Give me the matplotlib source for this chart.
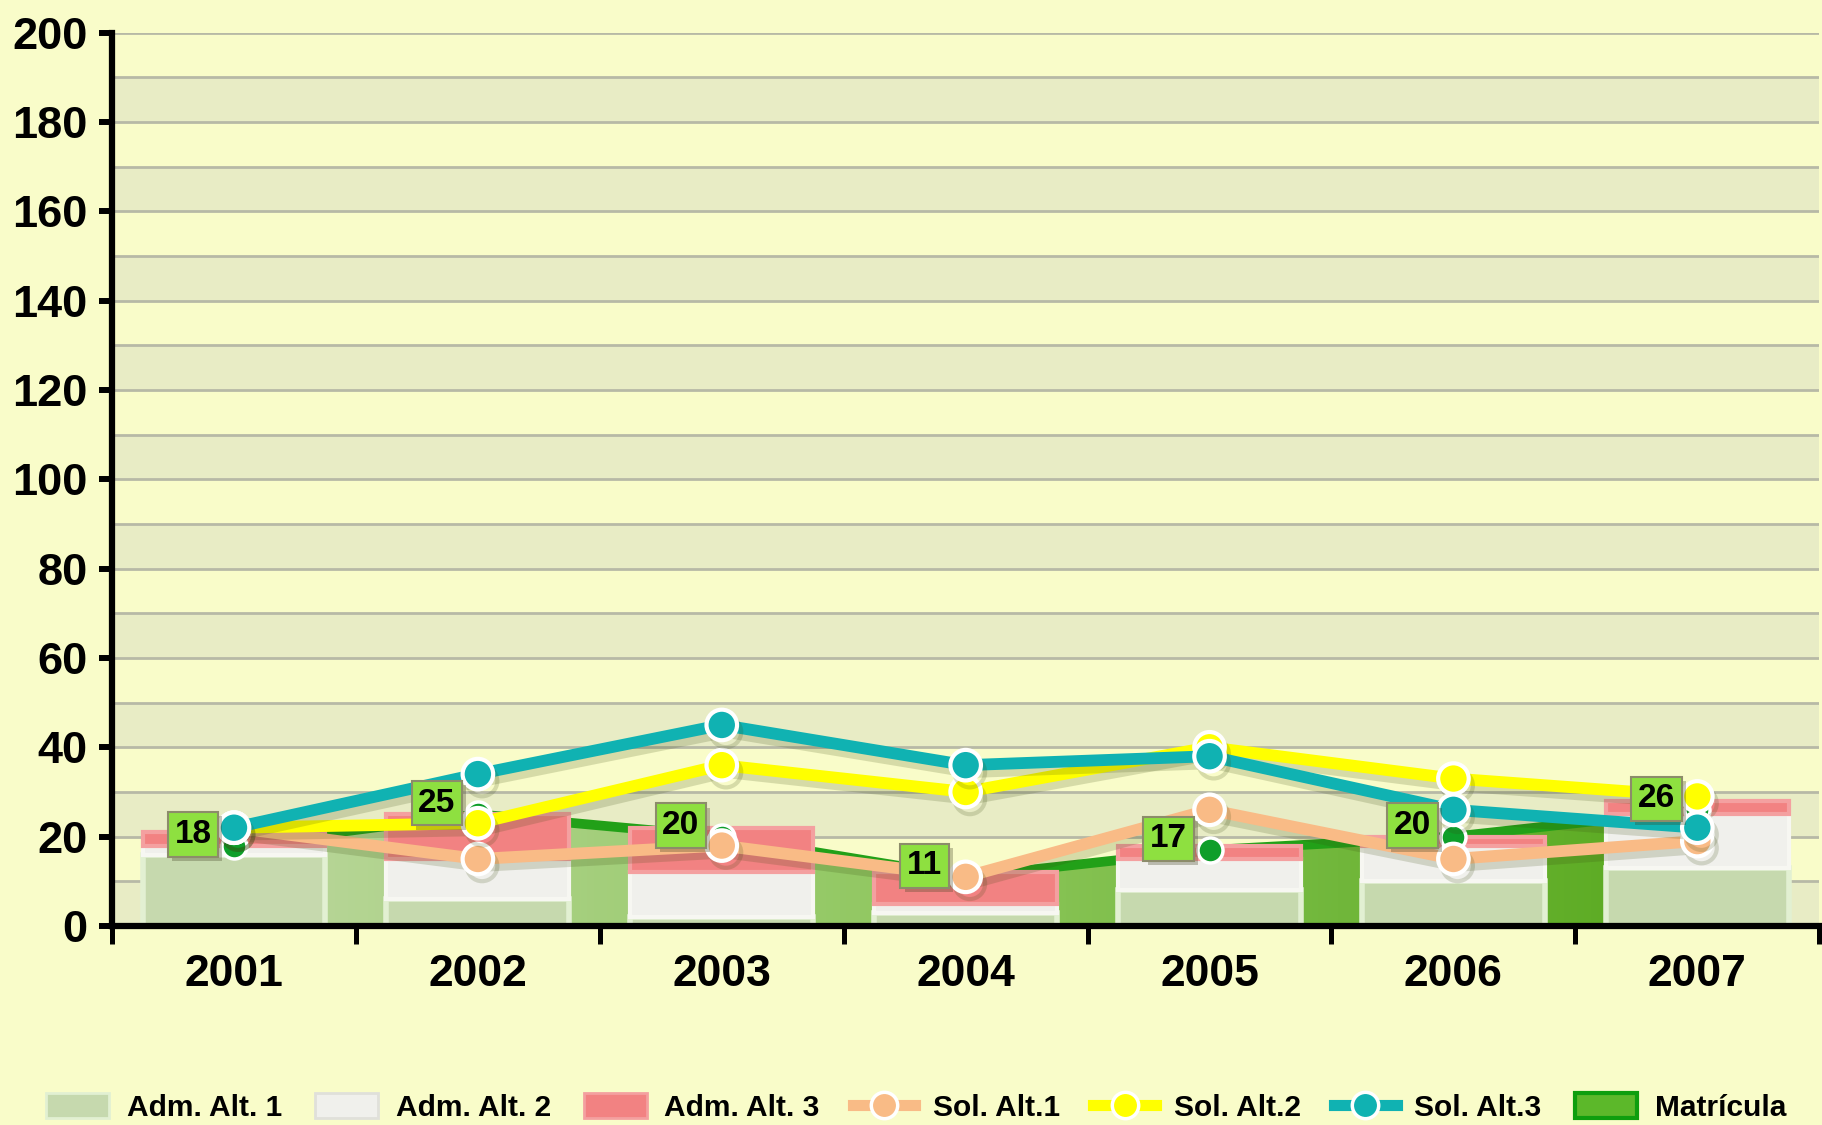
import matplotlib
matplotlib.use("Agg")
import matplotlib.pyplot as plt
import numpy as np
from matplotlib import patheffects as pe
from matplotlib.colors import LinearSegmentedColormap
from matplotlib.lines import Line2D
from matplotlib.patches import Patch

years = ["2001", "2002", "2003", "2004", "2005", "2006", "2007"]
adm_alt1 = [16, 6, 2, 3, 8, 10, 13]
adm_alt2 = [2, 9, 10, 2, 7, 8, 12]
adm_alt3 = [3, 10, 10, 7, 3, 2, 3]
sol_alt1 = [22, 15, 18, 11, 26, 15, 19]
sol_alt2 = [22, 23, 36, 30, 40, 33, 29]
sol_alt3 = [22, 34, 45, 36, 38, 26, 22]
matricula = [18, 25, 20, 11, 17, 20, 26]

plt.rcParams["font.family"] = ["Liberation Sans", "DejaVu Sans"]
plt.rcParams["font.weight"] = "bold"

BG = "#F9FCC9"
BAND = "#E8ECC5"

fig = plt.figure(figsize=(18.22, 11.25), dpi=100)
fig.patch.set_facecolor(BG)
ax = fig.add_axes([0.0615, 0.1769, 0.937, 0.7942])
ax.set_facecolor(BG)

x = np.arange(len(years))
ax.set_xlim(-0.5, len(years) - 0.5)
ax.set_ylim(0, 200)

# alternating bands + grid lines
for k in range(0, 200, 20):
    ax.axhspan(k, k + 10, color=BAND, lw=0, zorder=0)
for k in range(10, 201, 10):
    ax.axhline(k, color="#B7B9A6", lw=2, zorder=0.5)

# matricula as a green area behind the bars (gradient fill)
area = ax.fill_between(x, 0, matricula, color="none", zorder=1)
cmap = LinearSegmentedColormap.from_list("mat", ["#C3DAA8", "#8CC65A", "#4FA414"])
grad = np.linspace(0, 1, 256).reshape(1, -1)
img = ax.imshow(grad, cmap=cmap, aspect="auto", extent=(-0.5, 6.5, 0, 200),
                zorder=1, interpolation="bicubic")
img.set_clip_path(area.get_paths()[0], transform=ax.transData)
ax.plot(x, matricula, color="#22A018", lw=7, zorder=1.2, solid_capstyle="butt")

# stacked admission bars
w = 0.75
b1 = np.array(adm_alt1)
b2 = b1 + np.array(adm_alt2)
ax.bar(x, adm_alt1, width=w, color="#C6D9AE", edgecolor="#E2F0D2", lw=4, zorder=2)
ax.bar(x, adm_alt2, width=w, bottom=b1, color="#F0F0EC", edgecolor="#F7F7F2", lw=3, zorder=2)
ax.bar(x, adm_alt3, width=w, bottom=b2, color="#F28282", edgecolor="#F4A0A0", lw=3, zorder=2)

shadow = [pe.SimpleLineShadow(offset=(3, -5), shadow_color="#3A4A10", alpha=0.18),
          pe.Normal()]

# green matricula dots
ax.plot(x, matricula, ls="none", marker="o", ms=18, mfc="#0E9E2A", mec="white",
        mew=2.5, zorder=3)

series = [(sol_alt1, "#F9BB86"), (sol_alt2, "#FFFF00"), (sol_alt3, "#10B2B2")]
for i, (vals, col) in enumerate(series):
    ax.plot(x, vals, color=col, lw=8.5, marker="o", ms=22, mfc=col, mec="white",
            mew=3, zorder=4 + i, path_effects=shadow)

for xi, v in zip(x, matricula):
    t = ax.annotate(str(v), (xi, v), xytext=(-29.5, 8), textcoords="offset points",
                    ha="center", va="center", fontsize=24, fontweight="bold", zorder=10,
                    bbox=dict(boxstyle="square,pad=0.2", fc="#8EE040", ec="#8C8C6A", lw=1.5))
    t.get_bbox_patch().set_path_effects(
        [pe.SimplePatchShadow(offset=(3, -3), shadow_rgbFace="#404020", alpha=0.3),
         pe.Normal()])

# axes styling
for s in ["top", "right"]:
    ax.spines[s].set_visible(False)
for s in ["left", "bottom"]:
    ax.spines[s].set_linewidth(4.5)
    ax.spines[s].set_zorder(11)

ax.set_yticks(range(0, 201, 20))
ax.tick_params(axis="y", length=9.5, width=4.3, pad=8, labelsize=32.5)
ax.set_xticks(np.arange(-0.5, len(years)), labels=[])
ax.set_xticks(x, labels=years, minor=True)
ax.tick_params(axis="x", which="major", length=13, width=3.6)
ax.tick_params(axis="x", which="minor", length=0, pad=20, labelsize=32)
for lab in ax.get_yticklabels() + ax.get_xticklabels(minor=True):
    lab.set_fontweight("bold")

handles = [
    Patch(facecolor="#C6D9AE", edgecolor="#E2F0D2", lw=2),
    Patch(facecolor="#F0F0EC", edgecolor="#E0E0DA", lw=2),
    Patch(facecolor="#F28282", edgecolor="#F4A0A0", lw=2),
    Line2D([], [], color="#F9BB86", lw=8, marker="o", ms=19, mec="white", mew=2.5),
    Line2D([], [], color="#FFFF00", lw=8, marker="o", ms=19, mec="white", mew=2.5),
    Line2D([], [], color="#10B2B2", lw=8, marker="o", ms=19, mec="white", mew=2.5),
    Patch(facecolor="#5CB82A", edgecolor="#0E9E0E", lw=3),
]
labels = ["Adm. Alt. 1", "Adm. Alt. 2", "Adm. Alt. 3", "Sol. Alt.1", "Sol. Alt.2",
          "Sol. Alt.3", "Matrícula"]
fig.legend(handles, labels, loc="lower center", bbox_to_anchor=(0.503, -0.016), ncol=7,
           frameon=False, prop={"size": 21.5, "weight": "bold"}, handlelength=2.1,
           handleheight=0.9, handletextpad=0.6, columnspacing=1.1, borderpad=0.2)

fig.savefig("out.png", dpi=100, facecolor=BG)
